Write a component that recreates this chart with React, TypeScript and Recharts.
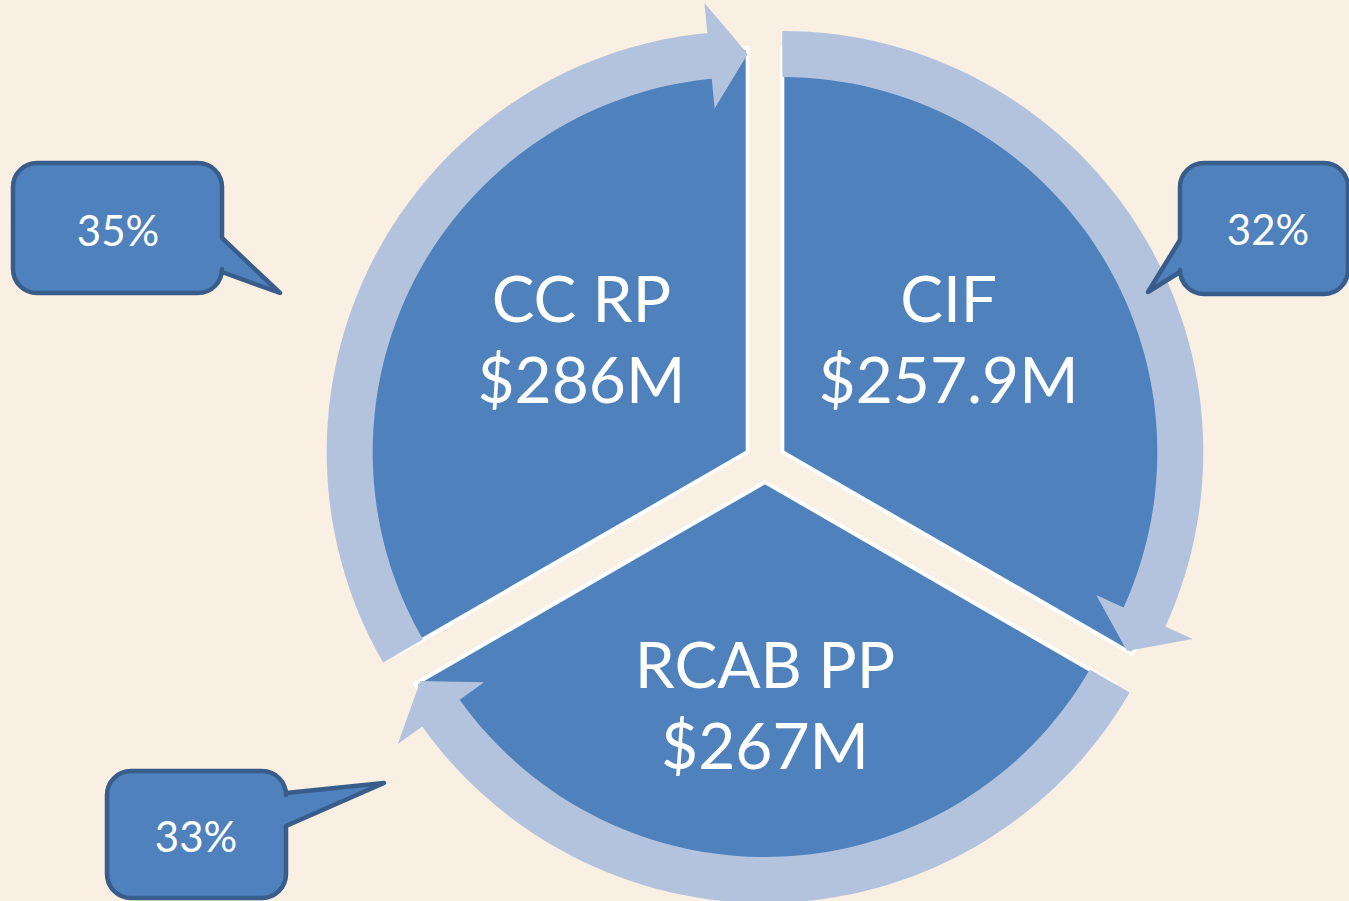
import { PieChart, Pie, Sector } from 'recharts';

const categories = ['CC RP', 'RCAB PP', 'CIF'];
const amounts = ['$286M', '$267M', '$257.9M'];
const shares = [35, 33, 32];
// cycle diagram: every segment gets the same arc
const segments = [1, 1, 1];

const data = categories.map((name, i) => ({
  name,
  amount: amounts[i],
  share: shares[i],
  value: segments[i],
}));

const W = 1349;
const H = 901;
const BG = '#F9EFE3';
const BLUE = '#4F81BD';
const RING = '#B3C3DE';
const DARK = '#385D8A';
const FONT = 'Lato, "Open Sans", sans-serif';

const EXPLODE = 20;
const RAD = Math.PI / 180;

// callout boxes, in the same order as categories
const calloutBoxes = [
  { x: 13, y: 163, w: 209, h: 130, side: 'right', y1: 238, y2: 272, tip: [280, 293], tx: 118, ty: 246 },
  { x: 107, y: 771, w: 179, h: 127, side: 'right', y1: 793, y2: 826, tip: [384, 783], tx: 196, ty: 852 },
  { x: 1180, y: 163, w: 168, h: 131, side: 'left', y1: 240, y2: 272, tip: [1148, 292], tx: 1268, ty: 245 },
];

const polar = (cx: number, cy: number, r: number, a: number) => [cx + r * Math.cos(a * RAD), cy - r * Math.sin(a * RAD)];

const shift = (mid: number) => [EXPLODE * Math.cos(mid * RAD), -EXPLODE * Math.sin(mid * RAD)];

function SliceShape(props: any) {
  const { cx, cy, outerRadius, startAngle, endAngle, fill } = props;
  const [dx, dy] = shift((startAngle + endAngle) / 2);
  return (
    <Sector
      cx={cx + dx}
      cy={cy + dy}
      innerRadius={0}
      outerRadius={outerRadius}
      startAngle={startAngle}
      endAngle={endAngle}
      fill={fill}
      stroke="#fff"
      strokeWidth={4}
    />
  );
}

// ring segment that ends in an arrow head at the lower angle (clockwise flow)
function RingShape(props: any) {
  const { cx, cy, innerRadius, outerRadius, startAngle, endAngle } = props;
  const a0 = Math.min(startAngle, endAngle);
  const a1 = Math.max(startAngle, endAngle);
  const [dx, dy] = shift((a0 + a1) / 2);
  const x = cx + dx;
  const y = cy + dy;
  const head = 5.5;
  const mid = (innerRadius + outerRadius) / 2;
  const p = (r: number, a: number) => polar(x, y, r, a).join(',');
  const d = [
    `M${p(outerRadius, a1)}`,
    `A${outerRadius},${outerRadius} 0 0 1 ${p(outerRadius, a0 + head)}`,
    `L${p(mid + 53, a0 + head)}`,
    `L${p(mid, a0)}`,
    `L${p(mid - 53, a0 + head)}`,
    `L${p(innerRadius, a0 + head)}`,
    `A${innerRadius},${innerRadius} 0 0 0 ${p(innerRadius, a1)}`,
    'Z',
  ].join(' ');
  return <path d={d} fill={RING} />;
}

function renderLabel(props: any) {
  const { cx, cy, index } = props;
  const mid = props.midAngle ?? 0;
  const [dx, dy] = shift(mid);
  const x = cx + dx + 192 * Math.cos(mid * RAD);
  const y = cy + dy - 224 * Math.sin(mid * RAD);
  return (
    <text x={x} y={y} textAnchor="middle" fill="#fff" fontSize={64} fontFamily={FONT}>
      <tspan x={x} y={y - 18}>{data[index].name}</tspan>
      <tspan x={x} y={y + 63}>{data[index].amount}</tspan>
    </text>
  );
}

function calloutPath(b: any) {
  const r = 24;
  const { x, y, w, h } = b;
  const right = x + w;
  const bottom = y + h;
  const arc = (ex: number, ey: number) => `A${r},${r} 0 0 1 ${ex},${ey}`;
  const rightEdge = b.side === 'right'
    ? `V${b.y1} L${b.tip[0]},${b.tip[1]} L${right},${b.y2} V${bottom - r}`
    : `V${bottom - r}`;
  const leftEdge = b.side === 'left'
    ? `V${b.y2} L${b.tip[0]},${b.tip[1]} L${x},${b.y1} V${y + r}`
    : `V${y + r}`;
  return [
    `M${x + r},${y}`,
    `H${right - r}`,
    arc(right, y + r),
    rightEdge,
    arc(right - r, bottom),
    `H${x + r}`,
    arc(x, bottom - r),
    leftEdge,
    arc(x + r, y),
    'Z',
  ].join(' ');
}

export default function App() {
  return (
    <div style={{ position: 'absolute', left: 0, top: 0, width: W, height: H, background: BG, overflow: 'hidden' }}>
      <PieChart width={W} height={H} margin={{ top: 0, right: 0, bottom: 0, left: 0 }}>
        <Pie
          data={data}
          dataKey="value"
          cx={765}
          cy={462}
          innerRadius={0}
          outerRadius={404}
          startAngle={90}
          endAngle={450}
          fill={BLUE}
          stroke="none"
          shape={SliceShape}
          label={renderLabel}
          labelLine={false}
          isAnimationActive={false}
        />
        <Pie
          data={data}
          dataKey="value"
          cx={765}
          cy={462}
          innerRadius={375}
          outerRadius={421}
          startAngle={90}
          endAngle={450}
          fill={RING}
          stroke="none"
          shape={RingShape}
          isAnimationActive={false}
        />
      </PieChart>
      <svg width={W} height={H} style={{ position: 'absolute', left: 0, top: 0 }}>
        {calloutBoxes.map((b, i) => (
          <g key={i}>
            <path d={calloutPath(b)} fill={BLUE} stroke={DARK} strokeWidth={4.5} strokeLinejoin="round" />
            <text x={b.tx} y={b.ty} textAnchor="middle" fill="#fff" fontSize={42} fontFamily={FONT}>
              {data[i].share}%
            </text>
          </g>
        ))}
      </svg>
    </div>
  );
}
